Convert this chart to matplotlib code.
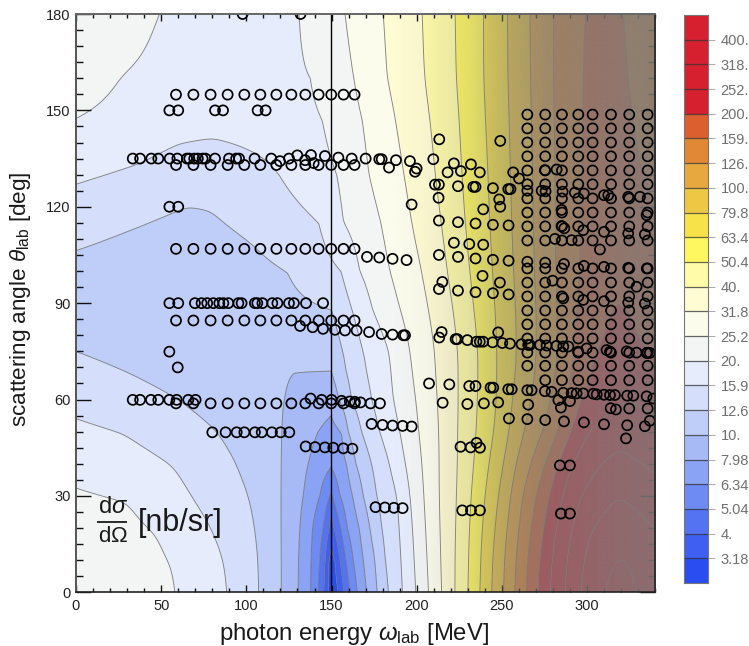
import numpy as np
import matplotlib
matplotlib.use("Agg")
import matplotlib.pyplot as plt
from matplotlib.ticker import MultipleLocator

plt.rcParams['font.family'] = ['Liberation Sans', 'DejaVu Sans']
plt.rcParams['mathtext.fontset'] = 'custom'
plt.rcParams['mathtext.rm'] = 'Liberation Sans'
plt.rcParams['mathtext.it'] = 'Liberation Sans:italic'
plt.rcParams['mathtext.bf'] = 'Liberation Sans:bold'

# colour-bar labels (cross section in nb/sr); boundary k corresponds to 10^(k/10)
bar_levels = [5, 6, 7, 8, 9, 10, 11, 12, 13, 14, 15, 16, 17, 18, 19, 20, 21, 22, 23, 24, 25, 26]
bar_labels = ["3.18", "4.", "5.04", "6.34", "7.98", "10.", "12.6", "15.9", "20.", "25.2", "31.8",
              "40.", "50.4", "63.4", "79.8", "100.", "126.", "159.", "200.", "252.", "318.", "400."]
band_colors = ["#2a4df2", "#3e5ff2", "#5473f2", "#6e8af3", "#8ba3f4", "#a7baf6", "#bfcef8", "#d5dffb",
               "#e6ecfb", "#f3f5f5", "#fbfcec", "#fffbd2", "#fffba8", "#fff760", "#f7e24a", "#eec845",
               "#e6a83f", "#e08835", "#dc5f30", "#d62030", "#d62030", "#d62030", "#d62030"]

# field: for each angle, (energy, level k) crossings
row_angles = [0, 10, 20, 30, 40, 50, 60, 68.7, 75, 88, 100, 115, 130, 147, 160, 180]
row_0 = [(0,13.6),(59.5,13),(89,12),(107.6,11),(120.6,10),(130.4,9),(137.7,8),(142.2,7),(145.5,6),(148,5),(149.7,4.3),(154,5),(157.2,6),(160.7,7),(165,8),(170.5,9),(176.8,10),(183.2,11),(191.7,12),(199.5,13),(206.8,14),(214.6,15),(222.4,16),(230.2,17),(237,18),(244,19),(251,20),(257.6,21),(264.4,22),(271.3,23),(278,24),(287,25),(296,26),(310,27),(320,27.5),(329,27),(340,26.6)]
row_10 = [(0,13.5),(57.5,13),(87.4,12),(107.3,11),(120.6,10),(130.6,9),(138,8),(143.1,7),(146.3,6),(148.4,5),(149.7,4.7),(152,5),(154.9,6),(158.4,7),(162.7,8),(168.6,9),(175.4,10),(181.3,11),(191,12),(198.5,13),(206,14),(214,15),(222.5,16),(230.5,17),(237.5,18),(244.5,19),(251.5,20),(258,21),(265,22),(272,23),(279,24),(288,25),(297,26),(316,27),(319.5,27.05),(323,27),(340,26.4)]
row_20 = [(0,13.45),(48,13),(79.5,12),(105.5,11),(120.5,10),(131.4,9),(138.8,8),(145.1,7),(148.6,6),(149.7,5.43),(151.4,6),(155.3,7),(159.2,8),(166.2,9),(172.5,10),(179.3,11),(190,12),(197.5,13),(205,14),(213.5,15),(223,16),(231,17),(238.5,18),(246,19),(253,20),(260,21),(267,22),(274.5,23),(281.5,24),(291,25),(302,26),(319,26.7),(340,26)]
row_30 = [(0,13.08),(30,13),(67,12),(102,11),(120.5,10),(133.4,9),(143.1,8),(149.7,6.86),(150.4,7),(154.9,8),(162.3,9),(168.6,10),(176.4,11),(189,12),(196,13),(204,14),(213,15),(223.5,16),(232,17),(240,18),(248,19),(255,20),(262,21),(270,22),(277.5,23),(285,24),(296,25),(318,26),(340,25.4)]
row_40 = [(0,12.75),(57,12),(94.5,11),(120.7,10),(136.3,9),(149.7,8.15),(158.8,9),(164.3,10),(173.5,11),(184,12),(193,13),(203,14),(213,15),(224,16),(233.5,17),(242.5,18),(251,19),(258,20),(267,21),(275,22),(283,23),(290,24),(307,25),(318,25.2),(329,25),(340,24.8)]
row_50 = [(0,12.2),(28,12),(83,11),(121,10),(142,9),(149.7,8.7),(155.9,9),(159.8,10),(167.6,11),(178,12),(190,13),(201,14),(213,15),(224,16),(235,17),(245.5,18),(254.5,19),(263,20),(275,21),(283,22),(291,23),(300,24),(320,24.8),(340,24.4)]
row_60 = [(0,11.7),(59,11),(122.5,10),(149.7,9.3),(154.3,10),(161.7,11),(173.5,12),(186,13),(199.5,14),(212,15),(224.5,16),(235.5,17),(247,18),(256,19),(267,20),(279,21),(288,22),(295.5,23),(325,23.95),(340,23.6)]
row_69 = [(0,11.3),(30,11),(80,10.45),(128,10),(149.7,10),(158.5,11),(170.5,12),(185,13),(197,14),(211,15),(224.4,16),(236,17),(247,18),(258,19),(269.5,20),(282,21),(291,22),(301,23),(325,23.6),(340,23.2)]
row_75 = [(0,10.98),(30,10.7),(80,10.3),(120,10.2),(149.7,10.4),(156.5,11),(168.5,12),(184,13),(196,14),(210.7,15),(224.4,16),(236,17),(247,18),(258.6,19),(270,20),(283,21),(292,22),(303,23),(320,23.3),(340,22.9)]
row_88 = [(0,10.45),(70,10.2),(150,11),(162,12),(174,13),(190,14),(207,15),(221.5,16),(233.5,17),(246,18),(258,19),(270,20),(282.5,21),(293.5,22),(313,23),(325,23.05),(340,22.4)]
row_100 = [(0,10.7),(60,10.3),(124,11),(155.5,12),(166.5,13),(184,14),(203,15),(218,16),(231,17),(244.5,18),(256.8,19),(269,20),(281.5,21),(295,22),(315,22.95),(340,22.2)]
row_115 = [(0,11.4),(65,10.75),(105,11.2),(142.5,12),(157,13),(179,14),(197,15),(214.6,16),(228.3,17),(243,18),(255.7,19),(268.4,20),(281,21),(296,22),(315,22.9),(340,22)]
row_130 = [(0,12.15),(38,11.85),(80,11.3),(119,12),(153,13),(172,14),(192.5,15),(211,16),(226.5,17),(242,18),(255,19),(268,20),(281,21),(296.5,22),(310,22.7),(330,22),(340,21.9)]
row_147 = [(0,13),(60,12.35),(115,12.4),(144.5,13),(168,14),(187.5,15),(208,16),(225,17),(240.5,18),(254.3,19),(267.3,20),(280.4,21),(296.7,22),(310,22.5),(326,22),(340,21.8)]
row_160 = [(0,13.5),(26,13),(90,12.5),(137.5,13),(163,14),(182.5,15),(204.7,16),(223.3,17),(239.4,18),(253.6,19),(266.7,20),(280,21),(297,22),(310,22.4),(323,22),(340,21.7)]
row_180 = [(0,13.8),(48.3,13),(90,12.6),(130.9,13),(157.9,14),(180.3,15),(203.4,16),(222.7,17),(239.4,18),(253.3,19),(266.4,20),(280,21),(298,22),(310,22.3),(320.8,22),(340,21.7)]
rows = [row_0, row_10, row_20, row_30, row_40, row_50, row_60, row_69, row_75, row_88, row_100, row_115, row_130, row_147, row_160, row_180]

# measured points (energy, angle)
grid_13_energy = [58.7, 68.9, 79, 89, 98.8, 108.2, 117.6, 126.4, 134.6, 142.4, 149.8, 157, 163.5]
grid_13_angle = [154.9, 133, 106.9, 84.6, 58.8]
grid_8_energy = [264.9, 275.4, 285.2, 294.8, 303.2, 314, 324.7, 335.5]
grid_8_angle = [148.7, 144.4, 140, 135.7, 131.3, 127, 122.6, 118.2, 113.9, 109.5, 100.8, 96.4, 92.1, 87.7, 83.4, 79, 74.6, 70.5]
grid_7_energy = [275.4, 285.2, 294.8, 303.2, 314, 324.7, 335.5]
grid_7_angle = [66]
pts_top = [(97.8,180),(131.8,180),(54.8,150),(60,150),(81.6,150),(86.3,150),(106.6,150),(111.3,150),(54.8,120),(60,120),(54.8,74.9),(59.7,70)]
pts_135 = [(33.3,135),(37.6,135),(44.2,135),(48.3,135),(55,135),(59.5,135),(65.1,135),(66.5,135),(69.4,135),(71.5,135),(74.3,135),(76,135),(81.6,135),(89.8,135),(94,135),(95.7,135),(104.8,135),(114.6,135),(119.7,134.2),(125,135),(129.9,136),(134.5,134.5),(137.9,136.1),(139.5,133.6),(146.1,135.8),(154,135.3),(161.8,135),(170,135),(178,134.8),(179.4,134.8),(187.8,134.5),(183.7,132.2),(196,134.2),(199.9,131.9),(199,130.9)]
pts_90 = [(54.8,90),(60,90),(69.8,90),(73.7,90),(77,90),(80.6,90),(84.1,90),(86.5,90),(89.4,90),(95.3,90),(97.2,90),(105,90),(106.4,90),(109.4,90),(115.2,90),(118.2,90),(125,90),(127.9,90),(135,90),(145,90)]
pts_80 = [(131.5,82.9),(138.9,82.5),(145,82),(152,81.7),(157.9,81.5),(164.7,81.5),(172,81),(179.4,80.4),(185.8,80.2),(192.1,80),(193.1,80),(213.2,79.3),(214.6,81),(222.8,78.8),(223.8,78.8),(229.7,78.5),(235,78),(237,78),(239,78),(244.5,77.8),(247.8,80.9),(250.2,77.6),(254.7,77.4),(261.5,77.2),(265.4,77),(266.4,77),(272.3,77),(276.2,76.8),(282,76.7),(286,76.5),(289,76.5),(294.8,74.9),(299.7,75.9),(311.4,75.4),(313.4,74.9),(323.2,75),(329,74.6),(334.9,74.5),(336.8,74.5)]
pts_high = [(213.2,141),(249,140.5),(209.7,134.8),(221.8,133.5),(231.8,133.2),(218.1,130.7),(225.9,131.1),(237,130.7),(256.6,130.7),(260,128.8),(210.7,126.9),(213,126.9),(224.2,126.4),(233.2,126.2),(234.5,126.2),(244.7,125.8),(253.7,125.5),(255,125.5),(264.9,125),(273.3,125),(275.6,124.8),(282.1,131.6),(275.2,131.4),(285.6,124.7),(292.8,124.4),(298.1,124.1),(309.9,123.6),(312.4,123.6),(324.1,123.1),(331,123.1),(212.8,122.8),(197,120.7),(248.4,122.3),(249,120),(239,119.2),(285,119),(334.9,117.4)]
pts_mid = [(213,115.7),(224.2,115.2),(234.5,114.8),(244.7,114.4),(253.9,114.2),(285,114),(286.6,113.3),(297.7,112.7),(309.9,112.2),(324.1,111.7),(333.9,111.4),(281.1,110),(290.9,109.6),(221.8,108.8),(230.8,108.4),(239,108.2),(307.5,106.7),(213,105),(224.2,104.4),(234.5,103.9),(244.7,103.5),(253.9,103.2),(170.8,104.4),(178,104.2),(185.8,103.8),(194,103.4),(264.9,102.9),(275.4,102.6),(286.4,102.2),(298.1,101.6),(309.9,101.3),(324.1,101),(335,100.8),(238.6,98.5),(215,96.6),(213,94.4),(248.8,96.4),(279.7,97),(224.2,93.9),(234.5,93.4),(244.7,93.1),(253.9,92.7),(329,95.1),(286,91.5),(297.7,91),(309.9,90.6),(324.1,90.2),(333.9,89.9)]
pts_60 = [(33.3,59.9),(37.6,59.9),(44,59.9),(48.3,59.9),(54.8,59.9),(59.1,59.9),(65.9,59.9),(70.2,59.9),(137.7,60.3),(144.2,59.9),(150,59.9),(155.9,59.6),(160.7,59.4),(163.7,59.3),(167,59.1),(172.9,58.8),(178.4,58.8),(207.2,65),(219.1,64.7),(230.8,64.2),(234.5,64.2),(243.3,63.7),(244.9,63.7),(253.7,63.2),(255.7,63.2),(264.9,62.9),(267.4,62.9),(275.2,62.6),(279.1,62.4),(286,62.1),(290.9,62),(293.8,61.9),(297.7,61.9),(303.6,61.8),(305.6,61.6),(309.9,61.5),(313.4,61.4),(316.3,61.4),(323.5,61.2),(327.1,61.2),(334.9,61),(338.8,60.3),(215.2,59),(229.7,58.6),(239.4,58.8),(247.8,59.1),(265.4,58.4),(283.1,59.8),(289.9,59.5),(284.6,57.5),(313.8,57.3),(316.9,56.9),(324.7,57.2),(335.5,57.2)]
pts_low = [(254.1,54.1),(264.9,53.9),(275.4,53.6),(286.4,53.2),(298.1,52.9),(309.9,52.3),(323.5,52),(333.9,51.7),(336.8,53.4),(322.8,47.9),(173.5,52.4),(179.9,52.1),(185.8,51.9),(191.7,51.8),(197,51.6),(80,49.8),(87.8,49.8),(94.3,49.8),(98.8,49.8),(105,49.8),(109,49.8),(115,49.8),(120.1,49.8),(125.2,49.8),(134.8,45.4),(140.3,45.2),(146.1,45.1),(151,45),(156.9,44.8),(162.2,44.7),(225.7,45.3),(231.6,45.1),(235.1,46.5),(237.1,45),(284,39.5),(289.9,39.5),(284.6,24.5),(289.9,24.5),(226.7,25.5),(231.8,25.5),(237.1,25.5),(175.8,26.5),(181.3,26.4),(186.6,26.3),(191.7,26.2)]

# gradient veil over the high-energy region
veil_energy = [185, 205, 230, 250, 275, 320, 340]
veil_alpha = [0.0, 0.05, 0.20, 0.44, 0.66, 0.80, 0.84]
veil_grey = 125

fig = plt.figure(figsize=(7.49, 6.46), dpi=100)
W, H = 749.0, 646.0
ax = fig.add_axes([76/W, 1-592.3/H, (655.3-76)/W, (592.3-14)/H])


def blur(arr, sigma, step, axis):
    half = int(3*sigma/step)
    kern = np.exp(-0.5*(np.arange(-half, half+1)*step/sigma)**2)
    kern /= kern.sum()
    pad = [(0, 0), (0, 0)]
    pad[axis] = (half, half)
    wide = np.pad(arr, pad, mode='reflect', reflect_type='odd')
    out = np.apply_along_axis(lambda v: np.convolve(v, kern, mode='valid'), axis, wide)
    return out


# build the surface
energy = np.arange(0, 340.5, 0.5)
angle = np.arange(0, 180.5, 0.5)
profile = np.array([np.interp(energy, *zip(*r)) for r in rows])
surface = np.array([np.interp(angle, row_angles, profile[:, j]) for j in range(energy.size)]).T
light = blur(surface, 1.5, 0.5, 0)
heavy = blur(blur(surface, 4.5, 0.5, 0), 3.0, 0.5, 1)
blend = np.clip((np.abs(energy-150)-22)/22, 0, 1)
surface = light*(1-blend) + heavy*blend

fill_levels = [0] + bar_levels + [40]
ax.contourf(energy, angle, surface, levels=fill_levels, colors=band_colors, zorder=1, antialiased=True)
ax.contour(energy, angle, surface, levels=bar_levels + [27], colors='#707070', linewidths=0.65, alpha=0.85, zorder=1.5)

# veil
a = np.interp(energy, veil_energy, veil_alpha)
rgba = np.zeros((1, energy.size, 4))
rgba[..., :3] = veil_grey/255.0
rgba[..., 3] = a
ax.imshow(rgba, extent=[0, 340, 0, 180], aspect='auto', origin='lower', zorder=2, interpolation='bilinear')

# threshold line
ax.axvline(149.5, color='black', lw=1.0, zorder=3)

# points
xs, ys = [], []
for e in grid_13_energy:
    for t in grid_13_angle:
        xs.append(e); ys.append(t)
for e in grid_8_energy:
    for t in grid_8_angle:
        xs.append(e); ys.append(t)
for e in grid_7_energy:
    for t in grid_7_angle:
        xs.append(e); ys.append(t)
for group in (pts_top, pts_135, pts_90, pts_80, pts_high, pts_mid, pts_60, pts_low):
    for e, t in group:
        xs.append(e); ys.append(t)
ax.scatter(xs, ys, s=52, facecolors='none', edgecolors='black', linewidths=1.25, zorder=4)

ax.set_xlim(0, 340)
ax.set_ylim(0, 180)
ax.xaxis.set_major_locator(MultipleLocator(50))
ax.xaxis.set_minor_locator(MultipleLocator(10))
ax.yaxis.set_major_locator(MultipleLocator(30))
ax.yaxis.set_minor_locator(MultipleLocator(5))
ax.tick_params(axis='y', which='major', direction='in', length=10.8, width=1.0, left=True, right=True, color='#111111', labelsize=10.5, labelcolor='#222222', pad=4)
ax.tick_params(axis='y', which='minor', direction='in', length=5.2, width=1.0, left=True, right=True, color='#111111')
ax.tick_params(axis='x', which='major', direction='in', length=5.0, width=1.0, top=True, bottom=True, color='#111111', labelsize=10.5, labelcolor='#222222', pad=5)
ax.tick_params(axis='x', which='minor', direction='in', length=2.6, width=1.0, top=True, bottom=True, color='#111111')
ax.tick_params(zorder=5)
ax.spines['left'].set(color='#555555', linewidth=1.4)
ax.spines['top'].set(color='#666666', linewidth=1.4)
ax.spines['bottom'].set(color='#222222', linewidth=1.2)
ax.spines['right'].set(color='#222222', linewidth=1.2)
for s in ax.spines.values():
    s.set_zorder(6)

fig.text(354/W, 1-634/H, r'photon energy $\omega_{\mathrm{lab}}$ [MeV]', ha='center', va='center', fontsize=17.2, color='#1a1a1a')
fig.text(21/W, 1-299/H, r'scattering angle $\theta_{\mathrm{lab}}$ [deg]', ha='center', va='center', rotation=90, fontsize=16.2, color='#1a1a1a')

# formula
ax.text(21.5, 23, r'd$\sigma$', ha='center', va='bottom', fontsize=17, color='#1a1a1a', zorder=7)
ax.text(21.5, 20.6, r'd$\Omega$', ha='center', va='top', fontsize=16, color='#1a1a1a', zorder=7)
ax.plot([12.5, 30], [22.0, 22.0], color='#1a1a1a', lw=1.3, zorder=7, solid_capstyle='butt')
ax.text(36.5, 21.5, '[nb/sr]', ha='left', va='center', fontsize=22, color='#1a1a1a', zorder=7)

# colour bar
cax = fig.add_axes([684/W, 1-583/H, 24/W, (583-15)/H])
edges = np.arange(4, 28)
cax.pcolormesh([0, 1], edges, np.arange(23).reshape(-1, 1), cmap=matplotlib.colors.ListedColormap(band_colors), vmin=-0.5, vmax=22.5)
cax.hlines(bar_levels, 0, 1, colors='#333333', linewidths=0.9, alpha=0.75)
cax.set_xlim(0, 1)
cax.set_ylim(4, 27)
cax.set_xticks([])
cax.yaxis.tick_right()
cax.set_yticks(bar_levels)
cax.set_yticklabels(bar_labels)
cax.tick_params(axis='y', direction='out', length=5, width=0.7, color='#aaaaaa', labelsize=10.5, labelcolor='#707070', pad=4)
for s in cax.spines.values():
    s.set(color='#777777', linewidth=0.8)

fig.savefig('out.png', dpi=100)
